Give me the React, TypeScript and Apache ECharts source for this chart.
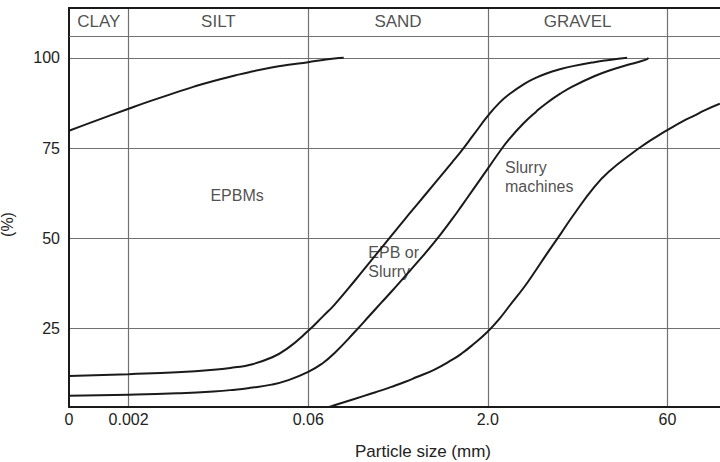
import React, { useEffect, useRef } from "react";
import * as echarts from "echarts";

// ---- axis layout (nominal "0" sits at the left edge) ----
const X_MIN = -0.332;
const X_MAX = 3.293;
const Y_MIN = 3.3;
const Y_MAX = 113.8;
const Y_HEADER = 106.1;

// ---- tick labels ----
const TICK_SIZES = [0, 0.002, 0.06, 2.0, 60];
const TICK_LABELS = ["0", "0.002", "0.06", "2.0", "60"];
const Y_TICKS = [25, 50, 75, 100];

// ---- soil classes (header row) ----
const CLASS_NAMES = ["CLAY", "SILT", "SAND", "GRAVEL"];
const CLASS_LO = [0, 0.002, 0.06, 2.0];
const CLASS_HI = [0.002, 0.06, 2.0, 60];

// ---- grading curves: particle size (mm) vs % passing ----
const sizesA = [0, 0.001, 0.002, 0.003, 0.005, 0.007, 0.01, 0.015, 0.02, 0.03, 0.04, 0.06, 0.08, 0.1, 0.12];
const pctA = [79.8, 82.2, 85.9, 88.0, 90.5, 92.1, 93.6, 95.1, 96.1, 97.3, 98.0, 98.8, 99.4, 99.8, 100];

const sizesB = [0, 0.002, 0.005, 0.01, 0.015, 0.02, 0.03, 0.04, 0.06, 0.08, 0.1, 0.15, 0.2, 0.25, 0.3, 0.4, 0.5, 0.7, 1.0, 1.2, 1.5, 2.0, 2.5, 3, 4, 5, 6, 8, 10, 15, 20, 28];
const pctB = [11.9, 12.4, 12.9, 13.6, 14.3, 15.0, 17.0, 19.4, 24.4, 28.4, 31.6, 38.4, 43.4, 47.3, 50.5, 55.5, 59.3, 65.0, 71.1, 74.3, 78.5, 83.9, 87.6, 89.9, 92.8, 94.5, 95.6, 96.9, 97.7, 98.8, 99.4, 100];

const sizesC = [0, 0.002, 0.005, 0.01, 0.015, 0.02, 0.03, 0.04, 0.06, 0.08, 0.1, 0.15, 0.2, 0.25, 0.3, 0.4, 0.5, 0.7, 1.0, 1.2, 1.5, 2.0, 2.5, 3, 4, 5, 6, 8, 10, 15, 20, 30, 40, 42];
const pctC = [6.4, 6.7, 7.1, 7.6, 8.1, 8.6, 9.5, 10.6, 13.0, 15.5, 18.2, 24.2, 28.7, 32.2, 35.0, 39.6, 43.2, 48.8, 55.4, 59.0, 63.5, 69.3, 74.0, 77.5, 82.1, 85.1, 87.3, 90.2, 92.1, 94.9, 96.5, 98.3, 99.5, 100];

const sizesD = [0.09, 0.1, 0.15, 0.2, 0.25, 0.3, 0.4, 0.5, 0.7, 1.0, 1.2, 1.5, 2.0, 2.5, 3, 4, 5, 6, 8, 10, 15, 20, 30, 40, 50, 60, 80, 100, 120, 162];
const pctD = [3.3, 3.8, 5.6, 6.9, 7.9, 8.8, 10.3, 11.6, 13.6, 16.4, 18.1, 20.6, 24.2, 27.8, 31.2, 36.6, 41.3, 45.3, 51.4, 56.2, 64.2, 68.6, 73.3, 76.3, 78.4, 80.0, 82.4, 84.0, 85.4, 87.3];

// ---- annotations ----
const NOTE_TEXT = ["EPBMs", "EPB or\nSlurry", "Slurry\nmachines"];
const NOTE_SIZE = [0.0156, 0.194, 2.77];
const NOTE_PCT = [61.9, 43.5, 67.1];
const NOTE_ALIGN = ["center", "left", "left"];

function sizeToAxis(d: number): number {
  if (d <= 0) return X_MIN;
  if (d < 0.06) return Math.max(X_MIN, Math.log(d / 0.002) / Math.log(30));
  if (d < 2) return 1 + Math.log(d / 0.06) / Math.log(2 / 0.06);
  if (d < 60) return 2 + Math.log(d / 2) / Math.log(30);
  return 3 + Math.log(d / 60) / Math.log(30);
}

const FONT = "'Liberation Sans', Arial, Helvetica, sans-serif";
const TEXT = "#222";
const GRID = "#717171";
const AXIS = "#1a1a1a";

export default function App() {
  const ref = useRef<HTMLDivElement>(null);

  useEffect(() => {
    if (!ref.current) return;
    const chart = echarts.init(ref.current, null, { renderer: "svg" });
    const tickPos = TICK_SIZES.map(sizeToAxis);
    const curve = (s: number[], p: number[]) => ({
      type: "line",
      data: s.map((v, i) => [sizeToAxis(v), p[i]]),
      showSymbol: false,
      symbol: "none",
      smooth: 0.5,
      lineStyle: { color: AXIS, width: 2 },
      silent: true,
    });

    chart.setOption({
      animation: false,
      grid: { left: 69, right: 0, top: 8, bottom: 55, containLabel: false, outerBoundsMode: "none" },
      xAxis: [
        {
          type: "value",
          min: X_MIN,
          max: X_MAX,
          position: "bottom",
          axisLine: { show: true, onZero: false, lineStyle: { color: AXIS, width: 2 } },
          axisTick: { show: false, customValues: tickPos.slice(1) },
          axisLabel: {
            customValues: tickPos,
            color: TEXT,
            fontSize: 16,
            fontFamily: FONT,
            margin: 4,
            formatter: (v: number) => {
              let best = 0;
              tickPos.forEach((t, i) => {
                if (Math.abs(t - v) < Math.abs(tickPos[best] - v)) best = i;
              });
              return TICK_LABELS[best];
            },
          },
          splitLine: { show: true, lineStyle: { color: GRID, width: 1.2 } },
          name: "Particle size (mm)",
          nameLocation: "middle",
          nameGap: 36,
          nameTextStyle: { color: TEXT, fontSize: 17, fontFamily: FONT, padding: [0, 0, 0, 57] },
        },
        {
          type: "value",
          min: X_MIN,
          max: X_MAX,
          position: "top",
          axisLine: { show: true, onZero: false, lineStyle: { color: AXIS, width: 2 } },
          axisTick: { show: false },
          axisLabel: { show: false },
          splitLine: { show: false },
        },
      ],
      yAxis: {
        type: "value",
        min: Y_MIN,
        max: Y_MAX,
        axisLine: { show: true, onZero: false, lineStyle: { color: AXIS, width: 2 } },
        axisTick: { show: false, customValues: Y_TICKS },
        axisLabel: { customValues: Y_TICKS, color: TEXT, fontSize: 16, fontFamily: FONT, margin: 9 },
        splitLine: { show: true, lineStyle: { color: GRID, width: 1.2 } },
        name: "(%)",
        nameLocation: "middle",
        nameGap: 54,
        nameTextStyle: { color: TEXT, fontSize: 16, fontFamily: FONT, padding: [0, 34, 0, 0] },
      },
      series: [
        curve(sizesA, pctA),
        curve(sizesB, pctB),
        curve(sizesC, pctC),
        curve(sizesD, pctD),
        {
          type: "scatter",
          silent: true,
          symbolSize: 1,
          itemStyle: { color: "rgba(0,0,0,0)" },
          data: CLASS_NAMES.map((n, i) => ({
            name: n,
            value: [(sizeToAxis(CLASS_LO[i]) + sizeToAxis(CLASS_HI[i])) / 2, (Y_HEADER + Y_MAX) / 2],
          })),
          label: {
            show: true,
            position: "inside",
            formatter: (p: any) => p.name,
            color: TEXT,
            fontSize: 17,
            fontFamily: FONT,
            align: "center",
            verticalAlign: "middle",
          },
          markLine: {
            silent: true,
            symbol: ["none", "none"],
            label: { show: false },
            lineStyle: { color: GRID, width: 1.2, type: "solid" },
            data: [{ yAxis: Y_HEADER }],
          },
        },
        {
          type: "scatter",
          silent: true,
          symbolSize: 1,
          itemStyle: { color: "rgba(0,0,0,0)" },
          data: NOTE_TEXT.map((t, i) => ({
            name: t,
            value: [sizeToAxis(NOTE_SIZE[i]), NOTE_PCT[i]],
            label: { align: NOTE_ALIGN[i] },
          })),
          label: {
            show: true,
            position: "inside",
            formatter: (p: any) => p.name,
            color: TEXT,
            fontSize: 16,
            lineHeight: 19,
            fontFamily: FONT,
            verticalAlign: "middle",
          },
        },
      ],
    });
    return () => chart.dispose();
  }, []);

  return (
    <div
      ref={ref}
      style={{ position: "absolute", left: 0, top: 0, width: 720, height: 462, background: "#fff" }}
    />
  );
}
